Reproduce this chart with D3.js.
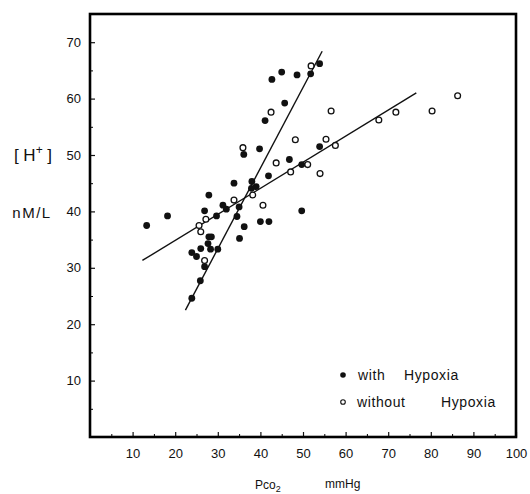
<!DOCTYPE html>
<html>
<head>
<meta charset="utf-8">
<script src="https://cdn.jsdelivr.net/npm/d3@7"></script>
<style>
  body { margin: 0; background: #fff; }
  text { font-family: "Liberation Sans", Arial, sans-serif; fill: #111; }
</style>
</head>
<body>
<script>
const width = 530;
const height = 494;

// Pco2 (mmHg) / [H+] (nM/L), with hypoxia
const withX = [13.3, 18.2, 23.9, 25.9, 26.9, 23.9, 25.0, 26.0, 27.7, 28.3, 30.0, 27.9, 28.5,
  26.9, 27.9, 29.7, 31.2, 32.0, 33.8, 35.0, 34.5, 36.2, 35.1, 36.1, 39.8, 38.0, 37.9, 39.0,
  40.0, 42.0, 41.9, 41.1, 42.7, 45.0, 45.7, 48.6, 51.8, 53.9, 46.8, 49.7, 53.9, 49.7];
const withY = [37.5, 39.2, 24.6, 27.7, 30.2, 32.7, 32.0, 33.4, 34.3, 33.3, 33.3, 35.5, 35.5,
  40.1, 42.9, 39.2, 41.1, 40.4, 45.0, 40.8, 39.1, 37.3, 35.2, 50.1, 51.1, 45.3, 44.1, 44.4,
  38.2, 38.2, 46.3, 56.1, 63.4, 64.7, 59.2, 64.2, 64.4, 66.2, 49.2, 48.3, 51.5, 40.1];

// without hypoxia
const withoutX = [25.6, 26.0, 27.2, 26.9, 33.8, 38.2, 40.6, 35.9, 42.5, 43.7, 47.1, 51.1,
  54.0, 48.2, 55.4, 57.6, 56.6, 67.8, 71.8, 80.3, 86.3, 51.9];
const withoutY = [37.5, 36.4, 38.6, 31.3, 42.0, 42.9, 41.1, 51.3, 57.6, 48.6, 47.0, 48.3,
  46.7, 52.7, 52.8, 51.7, 57.8, 56.2, 57.6, 57.8, 60.5, 65.8];

// fitted lines, end points
const withLineX = [22.4, 54.5];
const withLineY = [22.5, 68.4];
const withoutLineX = [12.3, 76.6];
const withoutLineY = [31.3, 61.0];

const xTicks = [10, 20, 30, 40, 50, 60, 70, 80, 90, 100];
const yTicks = [10, 20, 30, 40, 50, 60, 70];

const svg = d3.select("body").append("svg")
    .attr("width", width)
    .attr("height", height);

const x = d3.scaleLinear().domain([0, 100]).range([90, 516]);
const y = d3.scaleLinear().domain([0, 75]).range([437, 14]);

// minor ticks every 5
svg.append("g")
    .attr("transform", "translate(0,437)")
    .call(d3.axisBottom(x).tickValues(d3.range(5, 100, 10)).tickSize(-3).tickFormat(""))
    .call(g => g.select(".domain").remove());
svg.append("g")
    .attr("transform", "translate(90,0)")
    .call(d3.axisLeft(y).tickValues(d3.range(5, 75, 10)).tickSize(-3).tickFormat(""))
    .call(g => g.select(".domain").remove());

const xAxis = svg.append("g")
    .attr("transform", "translate(0,437)")
    .call(d3.axisBottom(x).tickValues(xTicks).tickSize(-5).tickPadding(12));
const yAxis = svg.append("g")
    .attr("transform", "translate(90,0)")
    .call(d3.axisLeft(y).tickValues(yTicks).tickSize(-5).tickPadding(9));
[xAxis, yAxis].forEach(g => {
  g.select(".domain").remove();
  g.selectAll("text").style("font-size", "13px").attr("fill", "#111");
  g.selectAll("line").attr("stroke", "#111").attr("stroke-width", 1.2);
});

// frame
svg.append("rect")
    .attr("x", x(0)).attr("y", y(75))
    .attr("width", x(100) - x(0)).attr("height", y(0) - y(75))
    .attr("fill", "none").attr("stroke", "#000").attr("stroke-width", 2.6);

// regression lines
const line = d3.line().x(d => x(d[0])).y(d => y(d[1]));
svg.append("path")
    .attr("d", line(d3.zip(withLineX, withLineY)))
    .attr("stroke", "#111").attr("stroke-width", 1.4).attr("fill", "none");
svg.append("path")
    .attr("d", line(d3.zip(withoutLineX, withoutLineY)))
    .attr("stroke", "#111").attr("stroke-width", 1.4).attr("fill", "none");

// points
svg.append("g").selectAll("circle")
    .data(d3.zip(withoutX, withoutY))
    .join("circle")
    .attr("cx", d => x(d[0])).attr("cy", d => y(d[1]))
    .attr("r", 2.9)
    .attr("fill", "#fff").attr("stroke", "#111").attr("stroke-width", 1.3);
svg.append("g").selectAll("circle")
    .data(d3.zip(withX, withY))
    .join("circle")
    .attr("cx", d => x(d[0])).attr("cy", d => y(d[1]))
    .attr("r", 3.4)
    .attr("fill", "#111");

// legend
svg.append("circle").attr("cx", 343).attr("cy", 375).attr("r", 2.8).attr("fill", "#111");
svg.append("circle").attr("cx", 343).attr("cy", 402).attr("r", 2.3)
    .attr("fill", "none").attr("stroke", "#111").attr("stroke-width", 1.1);
const legend = [["with", 358, 380], ["Hypoxia", 404, 380], ["without", 357, 407], ["Hypoxia", 441, 407]];
svg.append("g").selectAll("text")
    .data(legend)
    .join("text")
    .attr("x", d => d[1]).attr("y", d => d[2])
    .style("font-size", "14px").style("letter-spacing", "0.6px")
    .text(d => d[0]);

// axis titles
const hLabel = svg.append("text").attr("x", 33).attr("y", 161)
    .attr("text-anchor", "middle").style("font-size", "17px");
hLabel.append("tspan").text("[ H");
hLabel.append("tspan").attr("dy", -7).style("font-size", "12px").text("+");
hLabel.append("tspan").attr("dy", 7).text(" ]");
svg.append("text").attr("x", 32).attr("y", 218)
    .attr("text-anchor", "middle").style("font-size", "15px").style("letter-spacing", "1.5px")
    .text("nM/L");

const pLabel = svg.append("text").attr("x", 255).attr("y", 489).style("font-size", "12px");
pLabel.append("tspan").text("Pco");
pLabel.append("tspan").attr("dy", 3).style("font-size", "9px").text("2");
svg.append("text").attr("x", 325).attr("y", 488).style("font-size", "12px").text("mmHg");
</script>
</body>
</html>
